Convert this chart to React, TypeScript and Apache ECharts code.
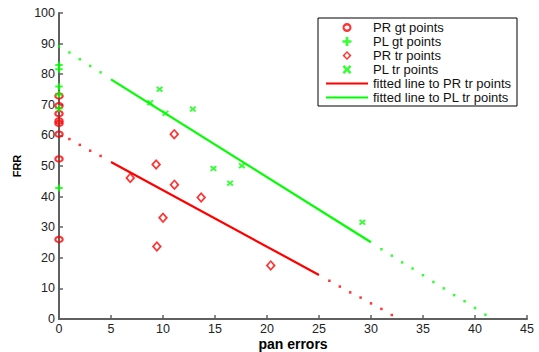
import React, { useEffect, useRef } from "react";
import * as echarts from "echarts";

// ---- data ----
// ground-truth points all lie at pan errors = 0
const prGtFRR = [72.9, 69.7, 67.1, 64.7, 63.9, 60.4, 52.3, 26.0];
const plGtFRR = [83.0, 81.6, 76.0, 73.4, 68.8, 42.8];
// [pan errors, FRR]
const prTrPoints = [
  [6.85, 46.1], [9.34, 50.5], [9.41, 23.7], [10.0, 33.1],
  [11.08, 60.4], [11.1, 43.9], [13.67, 39.7], [20.36, 17.5],
];
const plTrPoints = [
  [8.77, 70.7], [9.67, 75.1], [10.24, 67.2], [12.87, 68.6],
  [14.85, 49.2], [16.45, 44.4], [17.58, 50.1], [29.17, 31.6],
];
// fitted lines (solid part) and their dotted extensions
const prFitSolid = [[5, 51.3], [25, 14.4]];
const plFitSolid = [[5, 78.3], [30, 25.1]];
const prFitDots = [
  [1, 58.8], [2, 56.9], [3, 55.0], [4, 53.3],
  [26, 12.5], [27, 10.6], [28, 8.7], [29, 7.0], [30, 5.1], [31, 3.3], [32, 1.3],
];
const plFitDots = [
  [0, 89.1], [1, 87.1], [2, 84.9], [3, 82.7], [4, 80.6],
  [31, 22.8], [32, 20.7], [33, 18.5], [34, 16.5], [35, 14.3], [36, 12.1],
  [37, 10.0], [38, 7.8], [39, 5.8], [40, 3.6], [41, 1.4],
];
const legendNames = [
  "PR gt points",
  "PL gt points",
  "PR tr points",
  "PL tr points",
  "fitted line to PR tr points",
  "fitted line to PL tr points",
];

const RED = "#ff0000";
const GREEN = "#00ff00";
const FONT = "'Liberation Sans', Arial, Helvetica, sans-serif";
const AXIS = "#606060";

const RING =
  "path://M0,-1A1,1,0,1,1,0,1A1,1,0,1,1,0,-1ZM0,-0.45A0.55,0.45,0,1,0,0,0.45A0.55,0.45,0,1,0,0,-0.45Z";
const DIAMOND_RING =
  "path://M0,-1L1,0L0,1L-1,0ZM0,-0.56L-0.52,0L0,0.56L0.52,0Z";
const PLUS =
  "path://M-0.3,-1H0.3V-0.3H1V0.3H0.3V1H-0.3V0.3H-1V-0.3H-0.3Z";
const CROSS =
  "path://M-1,-0.6L-0.6,-1L0,-0.4L0.6,-1L1,-0.6L0.4,0L1,0.6L0.6,1L0,0.4L-0.6,1L-1,0.6L-0.4,0Z";
const LINE_ICON = "path://M0,0H21V1H0Z";

export default function App() {
  const ref = useRef<HTMLDivElement>(null);
  useEffect(() => {
    if (!ref.current) return;
    const chart = echarts.init(ref.current, undefined, { renderer: "svg" });
    chart.setOption({
      animation: false,
      backgroundColor: "#ffffff",
      grid: {
        left: 59,
        right: 12,
        top: 13,
        bottom: 33,
        containLabel: false,
        outerBoundsMode: "none",
      },
      xAxis: {
        type: "value",
        min: 0,
        max: 45,
        interval: 5,
        name: "pan errors",
        nameLocation: "middle",
        nameGap: 18,
        nameMoveOverlap: false,
        nameTextStyle: {
          fontFamily: FONT,
          fontSize: 14,
          lineHeight: 14,
          fontWeight: "bold",
          color: "#000",
        },
        axisLine: { show: true, lineStyle: { color: AXIS, width: 2 } },
        axisTick: { show: true, inside: true, length: 4, lineStyle: { color: AXIS, width: 1.5 } },
        axisLabel: { fontFamily: FONT, fontSize: 12.5, lineHeight: 12, color: "#222", margin: 4 },
        splitLine: { show: false },
      },
      yAxis: {
        type: "value",
        min: 0,
        max: 100,
        interval: 10,
        name: "FRR",
        nameLocation: "middle",
        nameGap: 37,
        nameMoveOverlap: false,
        nameTextStyle: { fontFamily: FONT, fontSize: 11, fontWeight: "bold", color: "#000" },
        axisLine: { show: true, lineStyle: { color: AXIS, width: 2 } },
        axisTick: { show: true, inside: true, length: 4, lineStyle: { color: AXIS, width: 1.5 } },
        axisLabel: { fontFamily: FONT, fontSize: 12.5, color: "#222", margin: 4 },
        splitLine: { show: false },
      },
      legend: {
        data: [
          { name: legendNames[0] },
          { name: legendNames[1] },
          { name: legendNames[2] },
          { name: legendNames[3] },
          { name: legendNames[4], icon: LINE_ICON },
          { name: legendNames[5], icon: LINE_ICON },
        ],
        orient: "vertical",
        left: 318,
        top: 18,
        align: "left",
        padding: [2.5, 6, 1.5, 8],
        itemWidth: 42,
        itemHeight: 9,
        itemGap: 0,
        symbolKeepAspect: true,
        borderColor: "#000",
        borderWidth: 1,
        backgroundColor: "#ffffff",
        textStyle: { fontFamily: FONT, fontSize: 13, lineHeight: 14, color: "#111" },
      },
      series: [
        {
          name: "PR gt points",
          type: "scatter",
          symbol: RING,
          symbolSize: [9.5, 7.5],
          itemStyle: { color: RED },
          data: prGtFRR.map((v) => [0, v]),
          z: 3,
        },
        {
          name: "PL gt points",
          type: "scatter",
          symbol: PLUS,
          symbolSize: [7.5, 7],
          itemStyle: { color: GREEN },
          data: plGtFRR.map((v) => [0, v]),
          z: 3,
        },
        {
          name: "PR tr points",
          type: "scatter",
          symbol: DIAMOND_RING,
          symbolSize: [10, 11],
          itemStyle: { color: RED },
          data: prTrPoints,
          z: 3,
        },
        {
          name: "PL tr points",
          type: "scatter",
          symbol: CROSS,
          symbolSize: [7, 6],
          itemStyle: { color: GREEN },
          data: plTrPoints,
          z: 3,
        },
        {
          name: "fitted line to PR tr points",
          type: "line",
          symbol: "none",
          lineStyle: { color: RED, width: 2.2 },
          itemStyle: { color: RED },
          data: prFitSolid,
          z: 4,
        },
        {
          name: "fitted line to PL tr points",
          type: "line",
          symbol: "none",
          lineStyle: { color: GREEN, width: 2.2 },
          itemStyle: { color: GREEN },
          data: plFitSolid,
          z: 4,
        },
        {
          name: "PR fit extension",
          type: "scatter",
          symbol: "rect",
          symbolSize: 2.5,
          itemStyle: { color: RED },
          data: prFitDots,
          z: 4,
        },
        {
          name: "PL fit extension",
          type: "scatter",
          symbol: "rect",
          symbolSize: 2.5,
          itemStyle: { color: GREEN },
          data: plFitDots,
          z: 4,
        },
      ],
    });
    return () => chart.dispose();
  }, []);
  return (
    <div
      ref={ref}
      style={{ position: "absolute", left: 0, top: 0, width: 539, height: 352 }}
    />
  );
}
